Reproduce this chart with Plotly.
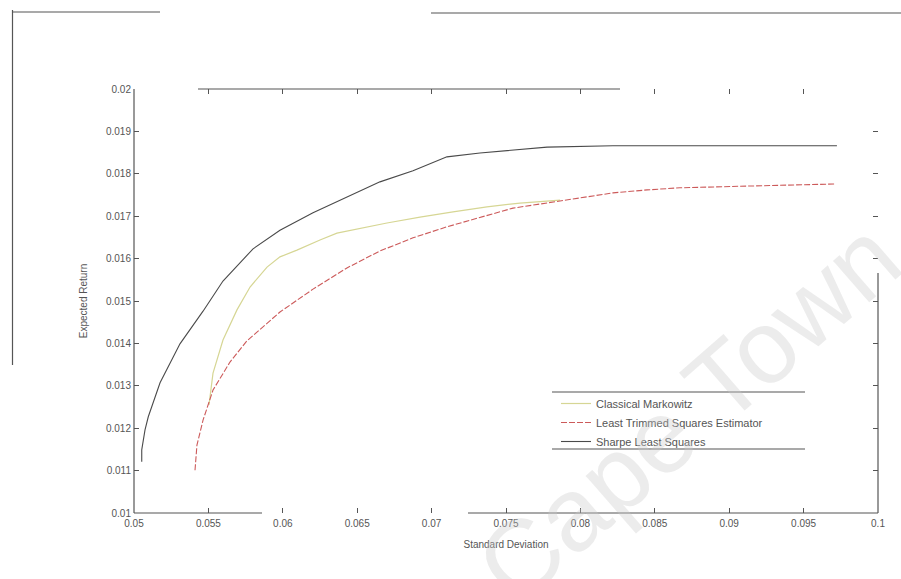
import plotly.graph_objects as go

# Efficient frontiers: standard deviation vs expected return
sd_markowitz = [0.05504, 0.05531, 0.05598, 0.05692, 0.05780, 0.05894, 0.05981, 0.06095,
                0.06250, 0.06364, 0.06700, 0.06922, 0.07144, 0.07372, 0.07594, 0.07863]
ret_markowitz = [0.01255, 0.01330, 0.01408, 0.01479, 0.01533, 0.01580, 0.01604, 0.01620,
                 0.01644, 0.01660, 0.01684, 0.01698, 0.01710, 0.01722, 0.01731, 0.01738]

sd_lts = [0.05410, 0.05423, 0.05464, 0.05531, 0.05645, 0.05759, 0.05981, 0.06203, 0.06431,
          0.06653, 0.06875, 0.07103, 0.07547, 0.07910, 0.08219, 0.08448, 0.08669, 0.09120, 0.09711]
ret_lts = [0.01101, 0.01160, 0.01219, 0.01290, 0.01356, 0.01406, 0.01474, 0.01528, 0.01578,
           0.01618, 0.01649, 0.01675, 0.01719, 0.01738, 0.01755, 0.01762, 0.01767, 0.01771, 0.01776]

sd_sharpe = [0.05052, 0.05052, 0.05074, 0.05096, 0.05175, 0.05309, 0.05464, 0.05598, 0.05800,
             0.05981, 0.06203, 0.06431, 0.06653, 0.06875, 0.07103, 0.07325, 0.07547, 0.07776,
             0.08219, 0.08891, 0.09724]
ret_sharpe = [0.01121, 0.01149, 0.01196, 0.01227, 0.01307, 0.01399, 0.01476, 0.01547, 0.01623,
              0.01667, 0.01708, 0.01745, 0.01781, 0.01807, 0.01840, 0.01849, 0.01856, 0.01863,
              0.01866, 0.01866, 0.01866]

x_tickvals = [0.05, 0.055, 0.06, 0.065, 0.07, 0.075, 0.08, 0.085, 0.09, 0.095, 0.1]
x_ticktext = ["0.05", "0.055", "0.06", "0.065", "0.07", "0.075", "0.08", "0.085", "0.09", "0.095", "0.1"]
y_tickvals = [0.010, 0.011, 0.012, 0.013, 0.014, 0.015, 0.016, 0.017, 0.018, 0.019, 0.020]
y_ticktext = ["0.01", "0.011", "0.012", "0.013", "0.014", "0.015", "0.016", "0.017", "0.018", "0.019", "0.02"]

W, H = 901, 579
PL, PR, PT, PB = 134, 878, 89, 513   # plot area edges in pixels


def px(x):
    return (x - PL) / (PR - PL)


def py(y):
    return (PB - y) / (PB - PT)


fig = go.Figure()
fig.add_trace(go.Scatter(x=sd_markowitz, y=ret_markowitz, mode="lines", name="Classical Markowitz",
                         line=dict(color="#d6d694", width=1.2)))
fig.add_trace(go.Scatter(x=sd_lts, y=ret_lts, mode="lines", name="Least Trimmed Squares Estimator",
                         line=dict(color="#cc5a5a", width=1.1, dash="6px,2px")))
fig.add_trace(go.Scatter(x=sd_sharpe, y=ret_sharpe, mode="lines", name="Sharpe Least Squares",
                         line=dict(color="#4a4a4a", width=1.1)))

axis_font = dict(family="Liberation Sans, Arial, sans-serif", size=10, color="#555555")
fig.update_xaxes(range=[0.05, 0.1], tickvals=x_tickvals, ticktext=x_ticktext,
                 ticks="inside", ticklen=5, tickcolor="#555555", mirror="ticks",
                 showline=False, showgrid=False, zeroline=False, tickfont=axis_font,
                 ticklabelstandoff=3,
                 title=dict(text="Standard Deviation", font=axis_font, standoff=12))
fig.update_yaxes(range=[0.01, 0.02], tickvals=y_tickvals, ticktext=y_ticktext,
                 ticks="inside", ticklen=5, tickcolor="#555555", mirror="ticks",
                 showline=False, showgrid=False, zeroline=False, tickfont=axis_font,
                 ticklabelstandoff=2,
                 title=dict(text="Expected Return", font=axis_font, standoff=16))

line_style = dict(color="#555555", width=1.2)
shapes = []
# axes box segments (pixel coordinates converted to paper)
for x0, y0, x1, y1 in [
    (PL, PT, PL, PB),          # left
    (198, PT, 620, PT),        # top
    (PR, 273, PR, PB),         # right
    (PL, PB, 262, PB),         # bottom
    (468, PB, PR, PB),
    # outer figure frame
    (12.5, 10, 12.5, 365),
    (12.5, 12, 160, 12),
    (431, 13, 901, 13),
    # legend rules
    (552, 392, 805, 392),
    (552, 449, 805, 449),
]:
    shapes.append(dict(type="line", xref="paper", yref="paper",
                       x0=px(x0), y0=py(y0), x1=px(x1), y1=py(y1), line=line_style))

fig.update_layout(
    width=W, height=H,
    margin=dict(l=PL, r=W - PR, t=PT, b=H - PB),
    paper_bgcolor="white", plot_bgcolor="white",
    showlegend=True,
    legend=dict(x=px(556), y=py(389), xanchor="left", yanchor="top",
                bgcolor="rgba(255,255,255,0)", borderwidth=0, tracegroupgap=0,
                font=dict(family="Liberation Sans, Arial, sans-serif", size=11, color="#555555")),
    shapes=shapes,
    annotations=[dict(text="Cape Town", xref="paper", yref="paper",
                      x=px(688), y=py(412), xanchor="center", yanchor="middle",
                      showarrow=False, textangle=-41,
                      font=dict(family="Liberation Sans, Arial, sans-serif", size=104,
                                color="rgba(200,200,200,0.35)"))],
)

fig.write_html("out.html")
